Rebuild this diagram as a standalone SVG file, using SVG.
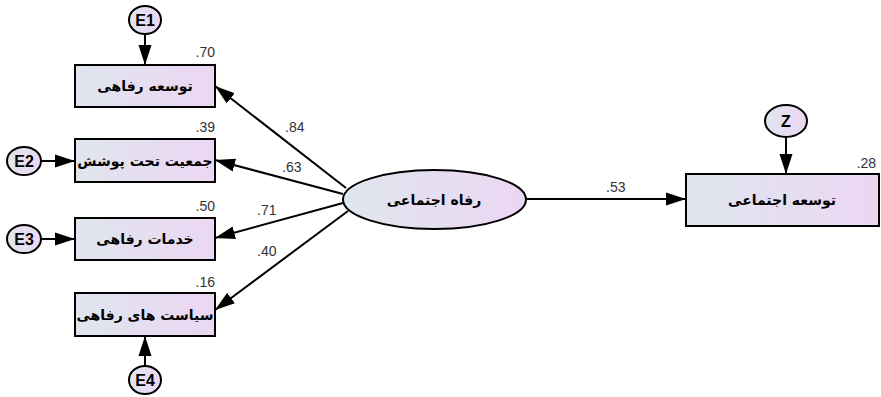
<svg xmlns="http://www.w3.org/2000/svg" width="881" height="397" viewBox="0 0 881 397">
<defs>
<linearGradient id="g" x1="0" y1="0" x2="1" y2="0">
<stop offset="0" stop-color="#dfe6ee"/>
<stop offset="1" stop-color="#ecd6f3"/>
</linearGradient>
<marker id="ah" markerUnits="userSpaceOnUse" markerWidth="20" markerHeight="14" viewBox="0 0 20 14" refX="20" refY="7" orient="auto">
<path d="M0,0.5 L20,7 L0,13.5 Z" fill="#000"/>
</marker>
</defs>
<style>
.box{fill:url(#g);stroke:#000;stroke-width:2}
.err{fill:url(#g);stroke:#000;stroke-width:2}
.lbl{font-family:"DejaVu Sans",sans-serif;font-weight:bold;font-size:14px;fill:#000;text-anchor:middle}
.elbl{font-family:"Liberation Sans",Arial,sans-serif;font-weight:bold;font-size:16px;fill:#000;text-anchor:middle}
.num{font-family:"Liberation Sans",Arial,sans-serif;font-size:14px;fill:#333}
.con{stroke:#000;stroke-width:2;fill:none;marker-end:url(#ah)}
</style>
<g id="connectors">
<line class="con" x1="346" y1="188" x2="215" y2="86"/>
<line class="con" x1="343" y1="194" x2="215" y2="160"/>
<line class="con" x1="343" y1="203" x2="215" y2="238"/>
<line class="con" x1="348" y1="211" x2="215" y2="310"/>
<line class="con" x1="526" y1="199" x2="686" y2="199"/>
<line class="con" x1="145" y1="34" x2="145" y2="65"/>
<line class="con" x1="41" y1="161" x2="75" y2="161"/>
<line class="con" x1="41" y1="239" x2="75" y2="239"/>
<line class="con" x1="145" y1="366" x2="145" y2="336"/>
<line class="con" x1="786" y1="137" x2="786" y2="174"/>
</g>
<g id="n1"><rect class="box" x="75" y="65" width="140" height="42"/><text class="lbl" x="145" y="91">توسعه رفاهی</text></g>
<g id="n2"><rect class="box" x="75" y="139" width="140" height="43"/><text class="lbl" x="145" y="166">جمعیت تحت پوشش</text></g>
<g id="n3"><rect class="box" x="75" y="218" width="140" height="42"/><text class="lbl" x="145" y="244">خدمات رفاهی</text></g>
<g id="n4"><rect class="box" x="75" y="293" width="140" height="43"/><text class="lbl" x="145" y="320">سیاست های رفاهی</text></g>
<g id="latent"><ellipse class="box" cx="434.5" cy="199.5" rx="91.5" ry="29.5"/><text class="lbl" x="434" y="205">رفاه اجتماعی</text></g>
<g id="outcome"><rect class="box" x="686" y="174" width="193" height="52"/><text class="lbl" x="782" y="205">توسعه اجتماعی</text></g>
<g id="e1"><ellipse class="err" cx="145" cy="20" rx="16" ry="14"/><text class="elbl" x="145" y="26">E1</text></g>
<g id="e2"><ellipse class="err" cx="24" cy="161" rx="17" ry="14"/><text class="elbl" x="24" y="167">E2</text></g>
<g id="e3"><ellipse class="err" cx="24" cy="239" rx="17" ry="14"/><text class="elbl" x="24" y="245">E3</text></g>
<g id="e4"><ellipse class="err" cx="145" cy="380" rx="16" ry="14"/><text class="elbl" x="145" y="386">E4</text></g>
<g id="z"><ellipse class="err" cx="786" cy="121" rx="21" ry="16"/><text class="elbl" x="786" y="127">Z</text></g>
<g id="labels">
<text class="num" x="215" y="57" text-anchor="end">.70</text>
<text class="num" x="215" y="132" text-anchor="end">.39</text>
<text class="num" x="215" y="211" text-anchor="end">.50</text>
<text class="num" x="215" y="287" text-anchor="end">.16</text>
<text class="num" x="876" y="168" text-anchor="end">.28</text>
<text class="num" x="606" y="192">.53</text>
<text class="num" x="285" y="132">.84</text>
<text class="num" x="282" y="172">.63</text>
<text class="num" x="257" y="215">.71</text>
<text class="num" x="257" y="256">.40</text>
</g>
</svg>
